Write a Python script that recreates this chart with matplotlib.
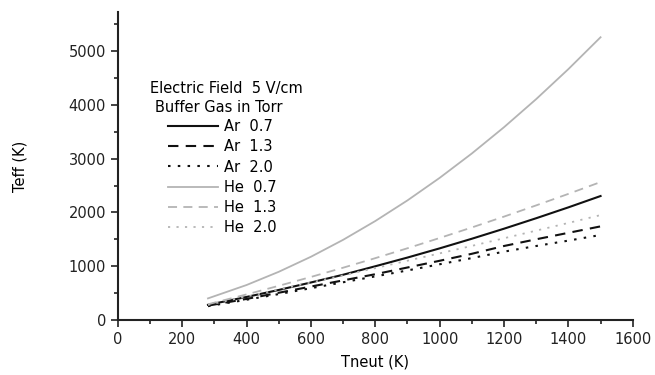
import matplotlib
matplotlib.use("Agg")
import matplotlib.pyplot as plt
from matplotlib.ticker import MultipleLocator

plt.rcParams['font.family'] = ['DejaVu Sans']

tneut = [280, 400, 500, 600, 700, 800, 900, 1000, 1100, 1200, 1300, 1400, 1500]

ar_07 = [280, 427, 557, 696, 840, 998, 1160, 1331, 1510, 1697, 1892, 2094, 2305]
ar_13 = [265, 390, 505, 620, 735, 850, 975, 1100, 1230, 1375, 1500, 1620, 1740]
ar_20 = [255, 375, 480, 590, 700, 810, 920, 1035, 1150, 1270, 1375, 1475, 1580]
he_07 = [400, 649, 895, 1175, 1490, 1840, 2224, 2643, 3097, 3586, 4109, 4667, 5260]
he_13 = [290, 474, 634, 799, 971, 1149, 1333, 1524, 1720, 1922, 2131, 2345, 2565]
he_20 = [280, 434, 565, 696, 829, 964, 1101, 1238, 1377, 1519, 1661, 1804, 1950]

labels = ["Ar  0.7", "Ar  1.3", "Ar  2.0", "He  0.7", "He  1.3", "He  2.0"]

fig = plt.figure(figsize=(6.55, 3.75), dpi=100)
ax = fig.add_axes([0.180, 0.147, 0.786, 0.821])

black = "#111111"
gray = "#b4b4b4"
ax.plot(tneut, ar_07, color=black, lw=1.5, label=labels[0])
ax.plot(tneut, ar_13, color=black, lw=1.5, dashes=(5, 3.5), label=labels[1])
ax.plot(tneut, ar_20, color=black, lw=1.5, dashes=(1.2, 3.5), label=labels[2])
ax.plot(tneut, he_07, color=gray, lw=1.3, label=labels[3])
ax.plot(tneut, he_13, color=gray, lw=1.3, dashes=(5, 3.5), label=labels[4])
ax.plot(tneut, he_20, color=gray, lw=1.3, dashes=(1.2, 3.5), label=labels[5])

ax.set_xlim(0, 1600)
ax.set_ylim(0, 5730)
ax.xaxis.set_major_locator(MultipleLocator(200))
ax.xaxis.set_minor_locator(MultipleLocator(100))
ax.yaxis.set_major_locator(MultipleLocator(1000))
ax.yaxis.set_minor_locator(MultipleLocator(500))

for s in ["top", "right"]:
    ax.spines[s].set_visible(False)
for s in ["left", "bottom"]:
    ax.spines[s].set_linewidth(1.5)
    ax.spines[s].set_color("#222222")

ax.tick_params(which="both", direction="out", width=1.2, colors="#222222",
               labelsize=10.5)
ax.tick_params(which="major", length=5)
ax.tick_params(which="minor", length=3)
ax.tick_params(axis="x", pad=4)

ax.set_xlabel("Tneut (K)", fontsize=10.5)
ax.set_ylabel("Teff (K)", fontsize=10.5)
ax.xaxis.set_label_coords(0.5, -0.112)
ax.yaxis.set_label_coords(-0.175, 0.5)

fig.text(150 / 655, 1 - 89 / 375, "Electric Field  5 V/cm", fontsize=10.5,
         va="center", ha="left")
fig.text(155 / 655, 1 - 108 / 375, "Buffer Gas in Torr", fontsize=10.5,
         va="center", ha="left")

ax.legend(loc="upper left", bbox_to_anchor=(168 / 655, 1 - 119 / 375),
          bbox_transform=fig.transFigure, frameon=False, fontsize=10.5,
          handlelength=3.4, labelspacing=0.36, handletextpad=0.45,
          borderpad=0.0, borderaxespad=0.0)

fig.savefig("out.png", dpi=100)
